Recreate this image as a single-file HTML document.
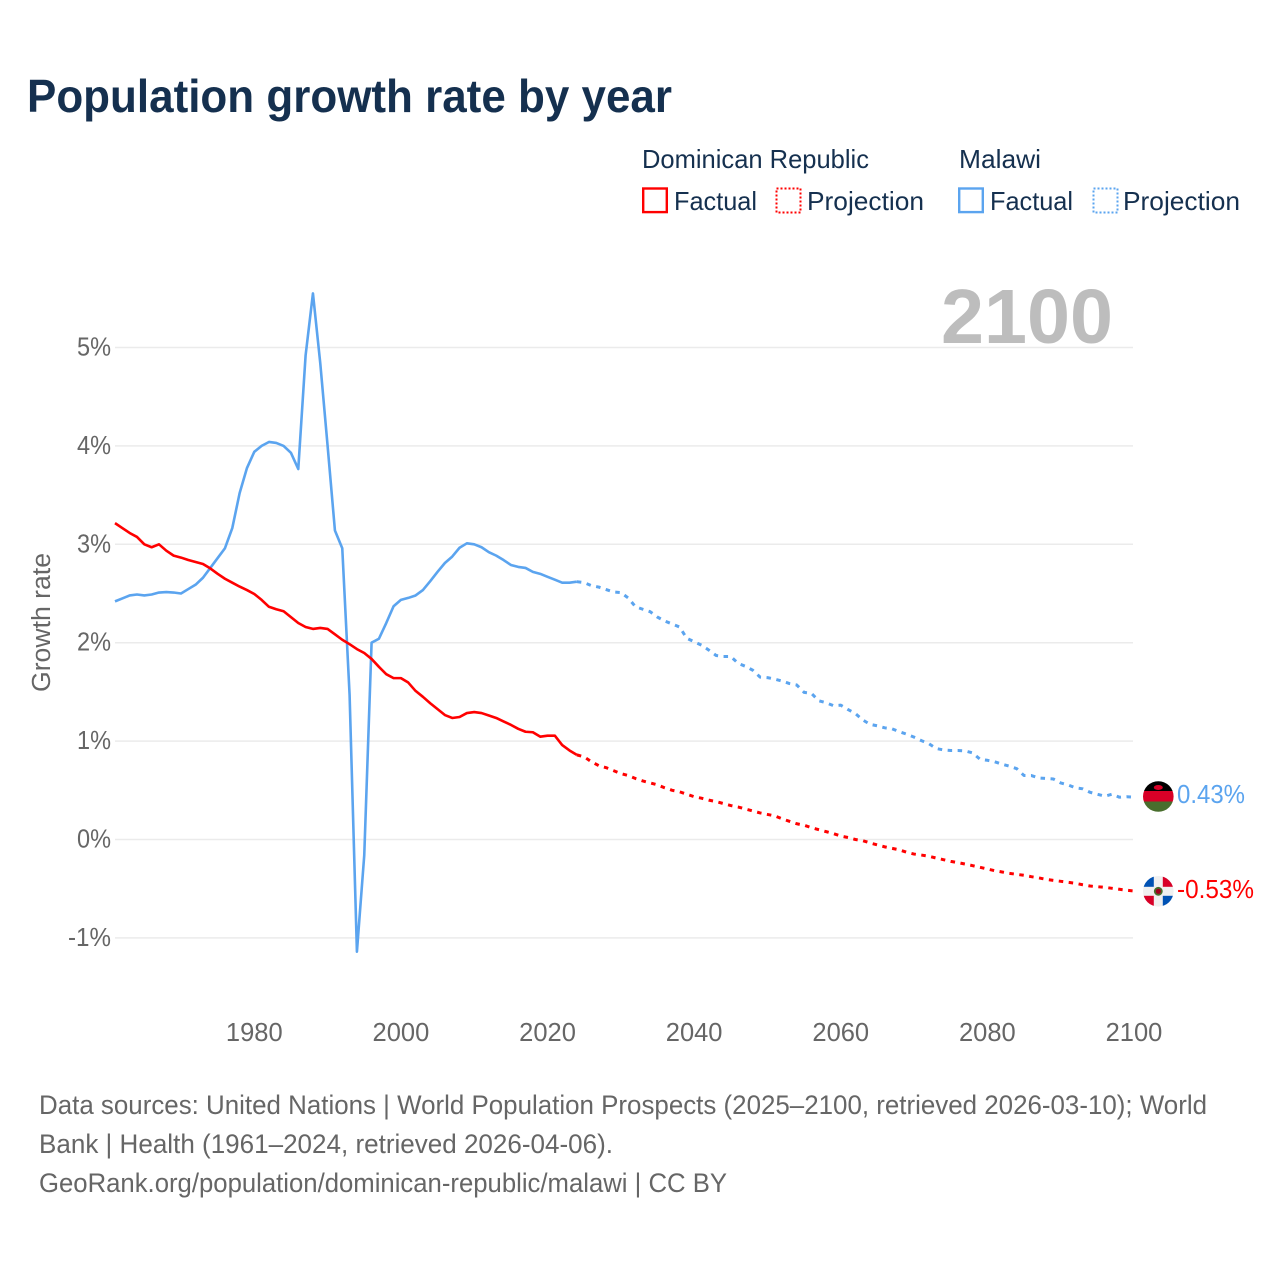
<!DOCTYPE html>
<html lang="en">
<head>
<meta charset="utf-8">
<title>Population growth rate by year</title>
<style>
html,body{margin:0;padding:0;background:#fff;width:1280px;height:1280px;overflow:hidden}
svg{display:block;font-family:"Liberation Sans",sans-serif}
.navy{fill:#15304f}
.grey{fill:#666}
</style>
</head>
<body>
<svg id="chart" xmlns="http://www.w3.org/2000/svg" width="1280" height="1280" viewBox="0 0 1280 1280">
  <rect width="1280" height="1280" fill="#fff"/>
  <text class="navy" x="27" y="112" font-size="46" font-weight="700" textLength="645" lengthAdjust="spacingAndGlyphs">Population growth rate by year</text>

  <g font-size="26">
    <text class="navy" x="642" y="168" textLength="227" lengthAdjust="spacingAndGlyphs">Dominican Republic</text>
    <text class="navy" x="959" y="168" textLength="82" lengthAdjust="spacingAndGlyphs">Malawi</text>
    <rect x="643.2" y="188.5" width="23.6" height="23.6" fill="none" stroke="#ff0000" stroke-width="2.4"/>
    <text class="navy" x="674" y="210" textLength="83" lengthAdjust="spacingAndGlyphs">Factual</text>
    <rect x="776.5" y="188.5" width="24" height="24" fill="none" stroke="#ff0000" stroke-width="2" stroke-dasharray="2 2"/>
    <text class="navy" x="807" y="210" textLength="117" lengthAdjust="spacingAndGlyphs">Projection</text>
    <rect x="959.2" y="188.5" width="23.6" height="23.6" fill="none" stroke="#5ba4ef" stroke-width="2.4"/>
    <text class="navy" x="990" y="210" textLength="83" lengthAdjust="spacingAndGlyphs">Factual</text>
    <rect x="1093.5" y="188.5" width="24" height="24" fill="none" stroke="#5ba4ef" stroke-width="2" stroke-dasharray="2 2"/>
    <text class="navy" x="1123" y="210" textLength="117" lengthAdjust="spacingAndGlyphs">Projection</text>
  </g>

  <g id="grid"></g>
  <text x="941" y="343" font-size="77" font-weight="700" fill="#bdbdbd" textLength="172" lengthAdjust="spacingAndGlyphs">2100</text>
  <g id="yticks" class="grey" font-size="25.5"></g>
  <g id="xticks" class="grey" font-size="25.5"></g>
  <text class="grey" transform="translate(50,622.5) rotate(-90)" text-anchor="middle" font-size="25.5" textLength="139" lengthAdjust="spacingAndGlyphs">Growth rate</text>
  <g id="series"></g>

  <defs>
    <clipPath id="clip-mw"><circle cx="1158.3" cy="796.5" r="15.3"/></clipPath>
    <clipPath id="clip-do"><circle cx="1158.3" cy="891.3" r="15.3"/></clipPath>
  </defs>
  <g clip-path="url(#clip-mw)">
    <rect x="1143" y="781" width="31" height="10" fill="#000"/>
    <rect x="1143" y="791" width="31" height="10.5" fill="#d80027"/>
    <rect x="1143" y="801.5" width="31" height="11" fill="#496e2d"/>
    <ellipse cx="1158.3" cy="787.5" rx="4.5" ry="2.5" fill="#d80027"/>
  </g>
  <g clip-path="url(#clip-do)">
    <rect x="1143" y="876" width="31" height="31" fill="#f0f0f0"/>
    <rect x="1143" y="876" width="10.8" height="10.8" fill="#0052b4"/>
    <rect x="1162.8" y="876" width="11" height="10.8" fill="#d80027"/>
    <rect x="1143" y="895.8" width="10.8" height="11" fill="#d80027"/>
    <rect x="1162.8" y="895.8" width="11" height="11" fill="#0052b4"/>
    <circle cx="1158.3" cy="891.3" r="4.4" fill="#496e2d"/>
    <circle cx="1158.3" cy="891.3" r="2.6" fill="#a2001d"/>
  </g>
  <text id="value-malawi" x="1177" y="803" font-size="26" fill="#5ba4ef" textLength="68" lengthAdjust="spacingAndGlyphs"></text>
  <text id="value-dominican" x="1177" y="898" font-size="26" fill="#ff0000" textLength="77" lengthAdjust="spacingAndGlyphs"></text>

  <g class="grey" font-size="27">
    <text x="39" y="1114" textLength="1168" lengthAdjust="spacingAndGlyphs">Data sources: United Nations | World Population Prospects (2025–2100, retrieved 2026-03-10); World</text>
    <text x="39" y="1153" textLength="574" lengthAdjust="spacingAndGlyphs">Bank | Health (1961–2024, retrieved 2026-04-06).</text>
    <text x="39" y="1192" textLength="688" lengthAdjust="spacingAndGlyphs">GeoRank.org/population/dominican-republic/malawi | CC BY</text>
  </g>
</svg>

<script>
const factualYears = [1961,1962,1963,1964,1965,1966,1967,1968,1969,1970,1971,1972,1973,1974,1975,1976,1977,1978,1979,1980,1981,1982,1983,1984,1985,1986,1987,1988,1989,1990,1991,1992,1993,1994,1995,1996,1997,1998,1999,2000,2001,2002,2003,2004,2005,2006,2007,2008,2009,2010,2011,2012,2013,2014,2015,2016,2017,2018,2019,2020,2021,2022,2023,2024];
const projectionYears = [2024,2025,2026,2027,2028,2029,2030,2031,2032,2033,2034,2035,2036,2037,2038,2039,2040,2041,2042,2043,2044,2045,2046,2047,2048,2049,2050,2051,2052,2053,2054,2055,2056,2057,2058,2059,2060,2061,2062,2063,2064,2065,2066,2067,2068,2069,2070,2071,2072,2073,2074,2075,2076,2077,2078,2079,2080,2081,2082,2083,2084,2085,2086,2087,2088,2089,2090,2091,2092,2093,2094,2095,2096,2097,2098,2099,2100];
const dominicanFactual = [3.215,3.165,3.115,3.075,3.0,2.97,3.0,2.935,2.885,2.865,2.84,2.82,2.80,2.755,2.70,2.65,2.61,2.57,2.535,2.495,2.435,2.365,2.34,2.32,2.26,2.2,2.16,2.14,2.15,2.14,2.085,2.03,1.985,1.935,1.895,1.835,1.755,1.68,1.64,1.64,1.595,1.51,1.45,1.385,1.325,1.265,1.235,1.245,1.285,1.295,1.285,1.26,1.235,1.2,1.165,1.125,1.095,1.09,1.045,1.055,1.055,0.96,0.905,0.86];
const malawiFactual = [2.42,2.45,2.48,2.49,2.48,2.49,2.51,2.515,2.51,2.50,2.545,2.59,2.66,2.76,2.86,2.96,3.165,3.52,3.775,3.94,4.0,4.04,4.03,4.0,3.93,3.765,4.92,5.55,4.84,4.0,3.14,2.96,1.47,-1.14,-0.16,2.0,2.04,2.2,2.37,2.435,2.455,2.48,2.535,2.625,2.72,2.81,2.875,2.965,3.01,3.0,2.97,2.92,2.885,2.84,2.79,2.77,2.76,2.72,2.70,2.67,2.64,2.61,2.61,2.62];
const dominicanProjection = [0.86,0.84,0.79,0.75,0.73,0.70,0.67,0.65,0.62,0.595,0.575,0.555,0.525,0.50,0.485,0.46,0.435,0.42,0.40,0.385,0.365,0.345,0.33,0.31,0.29,0.27,0.255,0.24,0.21,0.185,0.16,0.145,0.12,0.10,0.08,0.06,0.035,0.02,0.0,-0.012,-0.035,-0.055,-0.075,-0.09,-0.105,-0.13,-0.148,-0.158,-0.17,-0.188,-0.205,-0.222,-0.235,-0.25,-0.266,-0.283,-0.30,-0.317,-0.33,-0.344,-0.354,-0.364,-0.378,-0.39,-0.405,-0.415,-0.425,-0.435,-0.445,-0.46,-0.473,-0.48,-0.486,-0.496,-0.506,-0.516,-0.523];
const malawiProjection = [2.62,2.61,2.58,2.565,2.54,2.515,2.51,2.455,2.365,2.34,2.315,2.26,2.22,2.19,2.16,2.045,2.01,1.975,1.925,1.87,1.86,1.86,1.79,1.76,1.72,1.65,1.645,1.63,1.61,1.585,1.57,1.495,1.485,1.41,1.39,1.36,1.365,1.32,1.28,1.215,1.17,1.155,1.135,1.125,1.095,1.07,1.04,1.005,0.975,0.925,0.91,0.905,0.905,0.90,0.88,0.815,0.805,0.79,0.765,0.745,0.72,0.65,0.65,0.625,0.62,0.615,0.575,0.555,0.525,0.515,0.48,0.46,0.44,0.46,0.43,0.435,0.43];
const yTickValues = [-1,0,1,2,3,4,5];
const yTickLabels = ["-1%","0%","1%","2%","3%","4%","5%"];
const xTickValues = [1980,2000,2020,2040,2060,2080,2100];
const xTickLabels = ["1980","2000","2020","2040","2060","2080","2100"];
const endValueLabels = ["0.43%","-0.53%"];

const SVGNS = "http://www.w3.org/2000/svg";
function xScale(year){ return 115 + (year - 1961) * (1134 - 115) / 139; }
function yScale(pct){ return 839.5 - pct * 98.4; }
function linePath(years, values){
  return values.map(function(v, i){
    return (i ? "L" : "M") + xScale(years[i]).toFixed(2) + " " + yScale(v).toFixed(2);
  }).join("");
}

const gridGroup = document.getElementById("grid");
const yGroup = document.getElementById("yticks");
yTickValues.forEach(function(v, i){
  const line = document.createElementNS(SVGNS, "line");
  
  
  line.setAttribute("x1", 115);
  line.setAttribute("x2", 1133);
  line.setAttribute("y1", yScale(v));
  line.setAttribute("y2", yScale(v));
  line.setAttribute("stroke", "#ebebeb");
  line.setAttribute("stroke-width", "1.5");
  gridGroup.appendChild(line);

  const label = document.createElementNS(SVGNS, "text");
  
  
  label.setAttribute("x", 111);
  label.setAttribute("y", yScale(v) + 8);
  label.setAttribute("text-anchor", "end");
  label.setAttribute("textLength", yTickLabels[i].length * 9 + 16);
  label.setAttribute("lengthAdjust", "spacingAndGlyphs");
  label.textContent = yTickLabels[i];
  yGroup.appendChild(label);
});

const xGroup = document.getElementById("xticks");
xTickValues.forEach(function(v, i){
  const label = document.createElementNS(SVGNS, "text");
  
  
  label.setAttribute("x", xScale(v));
  label.setAttribute("y", 1041);
  label.setAttribute("text-anchor", "middle");
  label.textContent = xTickLabels[i];
  xGroup.appendChild(label);
});

const seriesGroup = document.getElementById("series");
function addSeries(name, years, values, color, dash){
  const path = document.createElementNS(SVGNS, "path");
  
  
  path.setAttribute("d", linePath(years, values));
  path.setAttribute("fill", "none");
  path.setAttribute("stroke", color);
  path.setAttribute("stroke-width", dash ? "3" : "2.6");
  path.setAttribute("stroke-linejoin", "round");
  if (dash) path.setAttribute("stroke-dasharray", dash);
  seriesGroup.appendChild(path);
}
addSeries("malawi-projection-line", projectionYears, malawiProjection, "#5ba4ef", "4.5 5.5");
addSeries("dominican-republic-projection-line", projectionYears, dominicanProjection, "#ff0000", "4.5 5.5");
addSeries("malawi-factual-line", factualYears, malawiFactual, "#5ba4ef", null);
addSeries("dominican-republic-factual-line", factualYears, dominicanFactual, "#ff0000", null);

document.getElementById("value-malawi").textContent = endValueLabels[0];
document.getElementById("value-dominican").textContent = endValueLabels[1];
</script>
</body>
</html>
